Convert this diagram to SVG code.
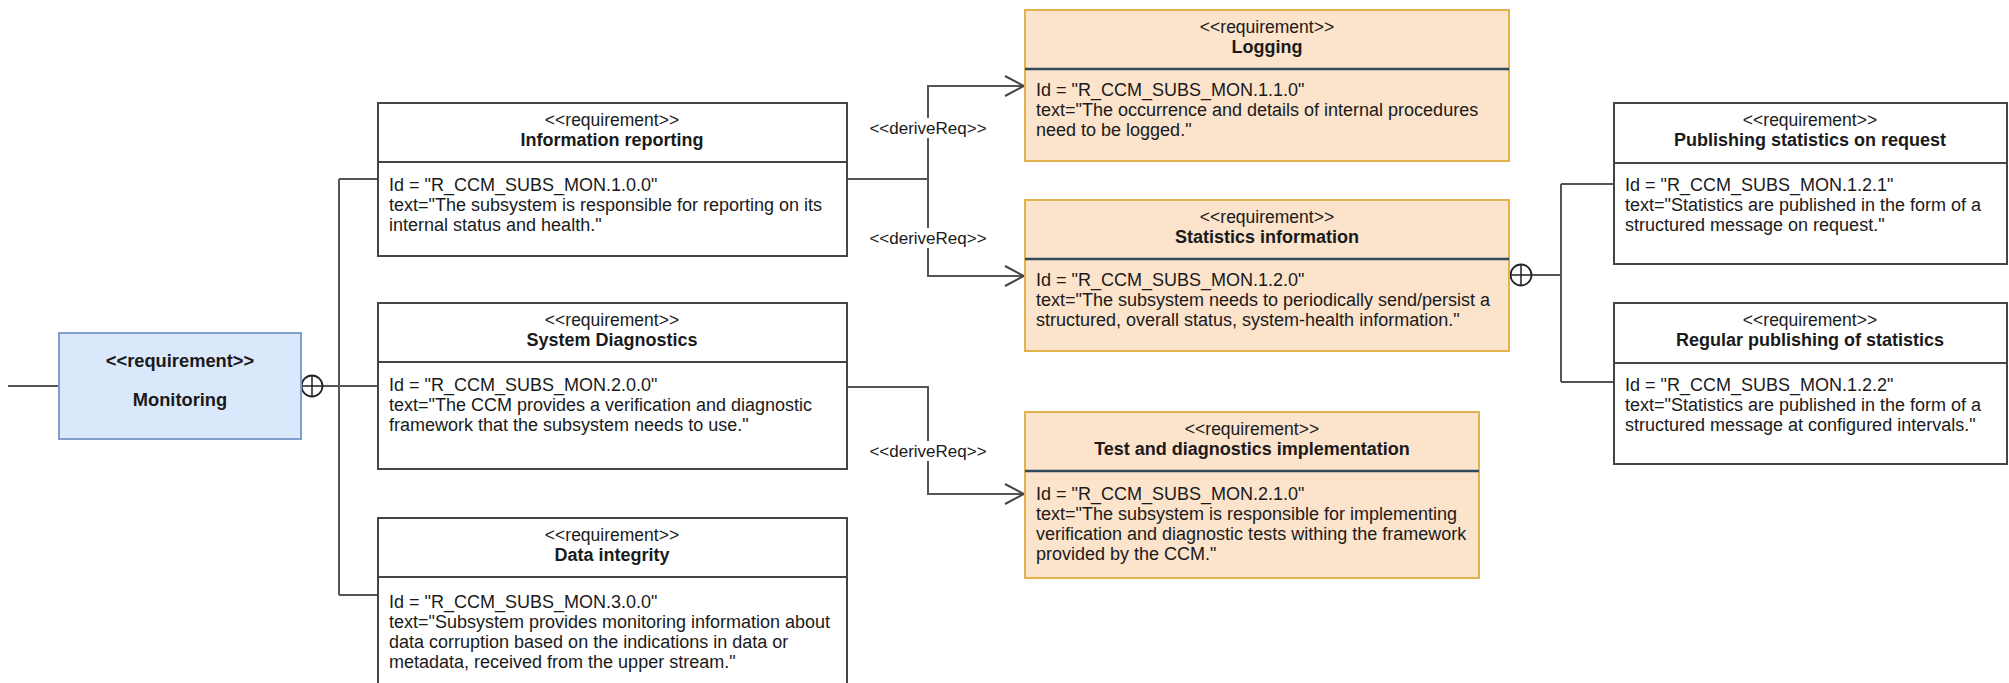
<svg xmlns="http://www.w3.org/2000/svg" width="2009" height="683" viewBox="0 0 2009 683">
  <style>
    text { font-family: "Liberation Sans", Arial, Helvetica, sans-serif; fill: #1a1a1a; }
    .st { font-size: 17.5px; text-anchor: middle; }
    .ti { font-size: 18px; font-weight: bold; text-anchor: middle; }
    .rt { font-size: 18.3px; font-weight: bold; text-anchor: middle; }
    .bd { font-size: 18px; }
    .lbl { font-size: 17px; text-anchor: middle; }
    .req { fill: #ffffff; stroke: #444444; stroke-width: 2; }
    .req-div { stroke: #444444; stroke-width: 2; }
    .der { fill: #fbe3cc; stroke: #e3b24f; stroke-width: 2; }
    .der-div { stroke: #2f4a58; stroke-width: 2.5; }
    .root { fill: #dae8fc; stroke: #7f9fcf; stroke-width: 2; }
    .edge { fill: none; stroke: #555555; stroke-width: 2; }
    .plus { fill: #ffffff; stroke: #222222; stroke-width: 1.8; }
    .lblbg { fill: #ffffff; }
  </style>
  <defs>
    <marker id="open" viewBox="0 0 22 22" refX="20" refY="11" markerWidth="22" markerHeight="22" markerUnits="userSpaceOnUse" orient="auto">
      <path d="M 1 1 L 20 11 L 1 21" fill="none" stroke="#444444" stroke-width="2"/>
    </marker>
  </defs>

  <rect width="2009" height="683" fill="#ffffff"/>

  <!-- connectors -->
  <g id="connectors">
    <path class="edge" d="M 8 386 H 59"/>
    <path class="edge" d="M 323 386 H 339"/>
    <path class="edge" d="M 339 179 V 595"/>
    <path class="edge" d="M 339 179 H 378"/>
    <path class="edge" d="M 339 386 H 378"/>
    <path class="edge" d="M 339 595 H 378"/>
    <path class="edge" d="M 847 179 H 928 V 86 H 1024" marker-end="url(#open)"/>
    <path class="edge" d="M 928 179 V 276 H 1024" marker-end="url(#open)"/>
    <path class="edge" d="M 847 387 H 928 V 494 H 1024" marker-end="url(#open)"/>
    <path class="edge" d="M 1532 275 H 1561"/>
    <path class="edge" d="M 1561 184 V 382"/>
    <path class="edge" d="M 1561 184 H 1614"/>
    <path class="edge" d="M 1561 382 H 1614"/>
    <!-- containment symbols -->
    <circle class="plus" cx="312" cy="386" r="10.5"/>
    <path d="M 312 375.5 V 396.5 M 301.5 386 H 322.5" stroke="#222222" stroke-width="1.5"/>
    <circle class="plus" cx="1521" cy="275" r="10.5"/>
    <path d="M 1521 264.5 V 285.5 M 1510.5 275 H 1531.5" stroke="#222222" stroke-width="1.5"/>
    <!-- relation labels -->
    <rect class="lblbg" x="866" y="118" width="124" height="20"/>
    <text class="lbl" x="928" y="134">&lt;&lt;deriveReq&gt;&gt;</text>
    <rect class="lblbg" x="866" y="228" width="124" height="20"/>
    <text class="lbl" x="928" y="244">&lt;&lt;deriveReq&gt;&gt;</text>
    <rect class="lblbg" x="866" y="441" width="124" height="20"/>
    <text class="lbl" x="928" y="457">&lt;&lt;deriveReq&gt;&gt;</text>
  </g>

  <!-- Monitoring -->
  <g id="monitoring">
    <rect class="root" x="59" y="333" width="242" height="106"/>
    <text class="rt" x="180" y="367">&lt;&lt;requirement&gt;&gt;</text>
    <text class="rt" x="180" y="406">Monitoring</text>
  </g>

  <!-- Information reporting -->
  <g id="information-reporting">
    <rect class="req" x="378" y="103" width="469" height="153"/>
    <line class="req-div" x1="378" y1="162" x2="847" y2="162"/>
    <text class="st" x="612" y="126">&lt;&lt;requirement&gt;&gt;</text>
    <text class="ti" x="612" y="146">Information reporting</text>
    <text class="bd" x="389" y="191">Id = "R_CCM_SUBS_MON.1.0.0"</text>
    <text class="bd" x="389" y="211">text="The subsystem is responsible for reporting on its</text>
    <text class="bd" x="389" y="231">internal status and health."</text>
  </g>

  <!-- System Diagnostics -->
  <g id="system-diagnostics">
    <rect class="req" x="378" y="303" width="469" height="166"/>
    <line class="req-div" x1="378" y1="362" x2="847" y2="362"/>
    <text class="st" x="612" y="326">&lt;&lt;requirement&gt;&gt;</text>
    <text class="ti" x="612" y="346">System Diagnostics</text>
    <text class="bd" x="389" y="391">Id = "R_CCM_SUBS_MON.2.0.0"</text>
    <text class="bd" x="389" y="411">text="The CCM provides a verification and diagnostic</text>
    <text class="bd" x="389" y="431">framework that the subsystem needs to use."</text>
  </g>

  <!-- Data integrity -->
  <g id="data-integrity">
    <rect class="req" x="378" y="518" width="469" height="180"/>
    <line class="req-div" x1="378" y1="577" x2="847" y2="577"/>
    <text class="st" x="612" y="541">&lt;&lt;requirement&gt;&gt;</text>
    <text class="ti" x="612" y="561">Data integrity</text>
    <text class="bd" x="389" y="608">Id = "R_CCM_SUBS_MON.3.0.0"</text>
    <text class="bd" x="389" y="628">text="Subsystem provides monitoring information about</text>
    <text class="bd" x="389" y="648">data corruption based on the indications in data or</text>
    <text class="bd" x="389" y="668">metadata, received from the upper stream."</text>
  </g>

  <!-- Logging -->
  <g id="logging">
    <rect class="der" x="1025" y="10" width="484" height="151"/>
    <line class="der-div" x1="1025" y1="69" x2="1509" y2="69"/>
    <text class="st" x="1267" y="33">&lt;&lt;requirement&gt;&gt;</text>
    <text class="ti" x="1267" y="53">Logging</text>
    <text class="bd" x="1036" y="96">Id = "R_CCM_SUBS_MON.1.1.0"</text>
    <text class="bd" x="1036" y="116">text="The occurrence and details of internal procedures</text>
    <text class="bd" x="1036" y="136">need to be logged."</text>
  </g>

  <!-- Statistics information -->
  <g id="statistics-information">
    <rect class="der" x="1025" y="200" width="484" height="151"/>
    <line class="der-div" x1="1025" y1="259" x2="1509" y2="259"/>
    <text class="st" x="1267" y="223">&lt;&lt;requirement&gt;&gt;</text>
    <text class="ti" x="1267" y="243">Statistics information</text>
    <text class="bd" x="1036" y="286">Id = "R_CCM_SUBS_MON.1.2.0"</text>
    <text class="bd" x="1036" y="306">text="The subsystem needs to periodically send/persist a</text>
    <text class="bd" x="1036" y="326">structured, overall status, system-health information."</text>
  </g>

  <!-- Test and diagnostics implementation -->
  <g id="test-diagnostics-implementation">
    <rect class="der" x="1025" y="412" width="454" height="166"/>
    <line class="der-div" x1="1025" y1="471" x2="1479" y2="471"/>
    <text class="st" x="1252" y="435">&lt;&lt;requirement&gt;&gt;</text>
    <text class="ti" x="1252" y="455">Test and diagnostics implementation</text>
    <text class="bd" x="1036" y="500">Id = "R_CCM_SUBS_MON.2.1.0"</text>
    <text class="bd" x="1036" y="520">text="The subsystem is responsible for implementing</text>
    <text class="bd" x="1036" y="540">verification and diagnostic tests withing the framework</text>
    <text class="bd" x="1036" y="560">provided by the CCM."</text>
  </g>

  <!-- Publishing statistics on request -->
  <g id="publishing-on-request">
    <rect class="req" x="1614" y="103" width="393" height="161"/>
    <line class="req-div" x1="1614" y1="163" x2="2007" y2="163"/>
    <text class="st" x="1810" y="126">&lt;&lt;requirement&gt;&gt;</text>
    <text class="ti" x="1810" y="146">Publishing statistics on request</text>
    <text class="bd" x="1625" y="191">Id = "R_CCM_SUBS_MON.1.2.1"</text>
    <text class="bd" x="1625" y="211">text="Statistics are published in the form of a</text>
    <text class="bd" x="1625" y="231">structured message on request."</text>
  </g>

  <!-- Regular publishing of statistics -->
  <g id="regular-publishing">
    <rect class="req" x="1614" y="303" width="393" height="161"/>
    <line class="req-div" x1="1614" y1="363" x2="2007" y2="363"/>
    <text class="st" x="1810" y="326">&lt;&lt;requirement&gt;&gt;</text>
    <text class="ti" x="1810" y="346">Regular publishing of statistics</text>
    <text class="bd" x="1625" y="391">Id = "R_CCM_SUBS_MON.1.2.2"</text>
    <text class="bd" x="1625" y="411">text="Statistics are published in the form of a</text>
    <text class="bd" x="1625" y="431">structured message at configured intervals."</text>
  </g>
</svg>
